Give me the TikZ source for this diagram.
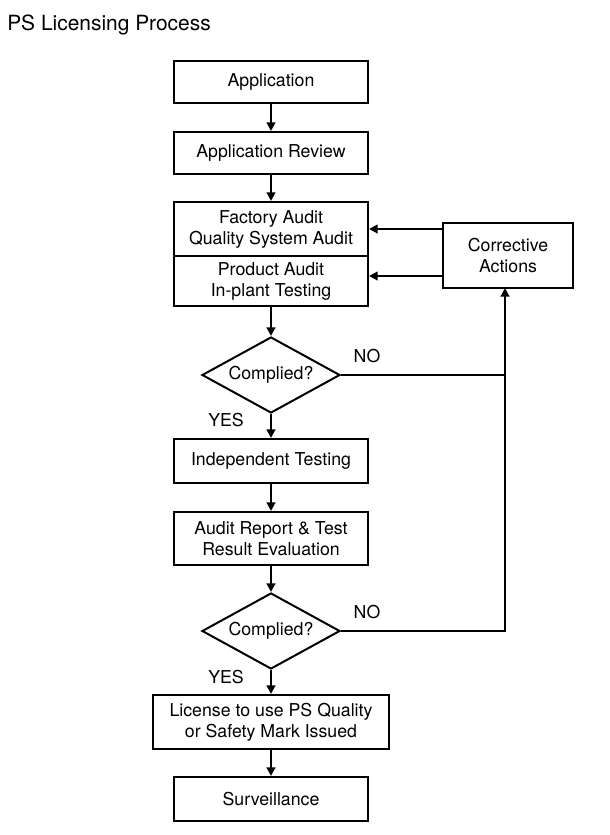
\documentclass[tikz,border=0pt]{standalone}
\usepackage{fontspec}
\setmainfont{TeX Gyre Heros}
\usetikzlibrary{arrows.meta,shapes.geometric}

\tikzset{
  stepbox/.style={draw, line width=1.5pt, align=center, inner sep=0pt,
    minimum width=145.5pt, font=\fontsize{13.3}{15.8}\selectfont},
  decision/.style={draw, diamond, line width=1.5pt, inner sep=0pt, aspect=1.8,
    minimum width=103.5pt, minimum height=57pt, font=\fontsize{13.3}{15.8}\selectfont},
  tag/.style={inner sep=0pt, font=\fontsize{13.3}{15.8}\selectfont},
  flow/.style={line width=1.5pt, -{Triangle[length=6.5pt,width=6.5pt]}},
  link/.style={line width=1.5pt}
}

\begin{document}
\begin{tikzpicture}[x=0.75pt,y=0.75pt,yscale=-1,xscale=1]
        \useasboundingbox (0,0) rectangle (610,835); %page of 610 x 835
        
        % Title
        \node [anchor=base west, inner sep=0pt, font=\fontsize{15.7}{19}\selectfont] (title) at (7,30) {PS Licensing Process};
        
        % Main column
        \node [stepbox, minimum height=31.5pt] (app) at (271,82) {Application};
        \node [stepbox, minimum height=31.5pt] (review) at (271,153) {Application Review};
        \node [stepbox, minimum height=40.5pt] (factory) at (271,229) {Factory Audit\\Quality System Audit};
        \node [stepbox, minimum height=37.5pt] (product) at (271,281) {Product Audit\\In-plant Testing};
        \node [decision] (dia1) at (271,375) {Complied?};
        \node [stepbox, minimum height=33pt] (indep) at (271,461) {Independent Testing};
        \node [stepbox, minimum height=39.75pt] (report) at (271,538.5) {Audit Report \& Test\\Result Evaluation};
        \node [decision] (dia2) at (271,631) {Complied?};
        \node [stepbox, minimum width=177pt, minimum height=40.5pt] (license) at (271,722) {License to use PS Quality\\or Safety Mark Issued};
        \node [stepbox, minimum height=33pt] (surv) at (271,799) {Surveillance};
        
        % Side box
        \node [stepbox, minimum width=97.5pt, minimum height=48.75pt] (corr) at (508,255.5) {Corrective\\Actions};
        \coordinate (bus) at (505,288);
        
        % Labels
        \node [tag] (no1) at (367,356) {NO};
        \node [tag] (yes1) at (226,420) {YES};
        \node [tag] (no2) at (367,612) {NO};
        \node [tag] (yes2) at (226,677) {YES};
        
        % Arrows down the column
        \draw [flow] (app) -- (review);
        \draw [flow] (review) -- (factory);
        \draw [flow] (product) -- (dia1);
        \draw [flow] (dia1) -- (indep);
        \draw [flow] (indep) -- (report);
        \draw [flow] (report) -- (dia2);
        \draw [flow] (dia2) -- (license);
        \draw [flow] (license) -- (surv);
        
        % Loop back to corrective actions
        \draw [flow] (dia2.east) -| (bus);
        \draw [link] (dia1.east) -- (dia1.east -| bus);
        \draw [flow] (corr.west |- factory.east) -- (factory.east);
        \draw [flow] ([yshift=-3.75pt]corr.west |- product.east) -- ([yshift=-3.75pt]product.east);
        
\end{tikzpicture}
\end{document}
